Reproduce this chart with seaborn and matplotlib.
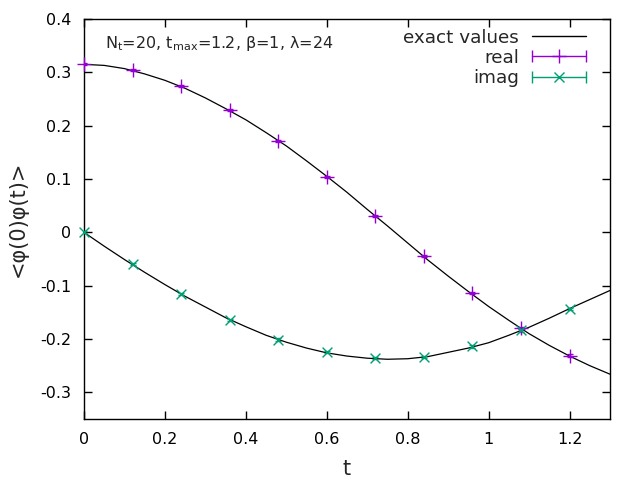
import matplotlib
matplotlib.use("Agg")
import matplotlib.pyplot as plt
import seaborn as sns
import numpy as np
import pandas as pd
from matplotlib.lines import Line2D
from matplotlib.legend_handler import HandlerBase

# ---- data ----
t_points = [0.0, 0.12, 0.24, 0.36, 0.48, 0.60, 0.72, 0.84, 0.96, 1.08, 1.20]
real_vals = [0.315, 0.304, 0.274, 0.229, 0.171, 0.103, 0.030, -0.045, -0.114, -0.180, -0.231]
real_err = [0.002, 0.002, 0.002, 0.002, 0.002, 0.002, 0.002, 0.002, 0.002, 0.002, 0.002]
imag_vals = [0.0, -0.060, -0.116, -0.165, -0.201, -0.225, -0.235, -0.233, -0.214, -0.184, -0.143]
imag_err = [0.002, 0.002, 0.002, 0.002, 0.002, 0.002, 0.002, 0.002, 0.002, 0.002, 0.002]

t_exact = [0.0, 0.05, 0.10, 0.15, 0.20, 0.25, 0.30, 0.35, 0.40, 0.45, 0.50, 0.55, 0.60,
           0.65, 0.70, 0.75, 0.80, 0.85, 0.90, 0.95, 1.00, 1.05, 1.10, 1.15, 1.20, 1.25, 1.30]
exact_real = [0.315, 0.313, 0.307, 0.297, 0.285, 0.270, 0.252, 0.232, 0.211, 0.187, 0.162,
              0.134, 0.105, 0.075, 0.043, 0.012, -0.020, -0.052, -0.082, -0.111, -0.139,
              -0.165, -0.190, -0.212, -0.232, -0.250, -0.266]
exact_imag = [0.0, -0.026, -0.051, -0.075, -0.098, -0.120, -0.140, -0.160, -0.177, -0.193,
              -0.206, -0.217, -0.226, -0.232, -0.236, -0.238, -0.237, -0.233, -0.225,
              -0.217, -0.207, -0.193, -0.178, -0.161, -0.143, -0.126, -0.109]

x_ticks = [0, 0.2, 0.4, 0.6, 0.8, 1.0, 1.2]
x_tick_labels = ["0", "0.2", "0.4", "0.6", "0.8", "1", "1.2"]
y_ticks = [-0.3, -0.2, -0.1, 0.0, 0.1, 0.2, 0.3, 0.4]
y_tick_labels = ["-0.3", "-0.2", "-0.1", "0", "0.1", "0.2", "0.3", "0.4"]

annotation = r"N$_\mathrm{t}$=20, t$_\mathrm{max}$=1.2, β=1, λ=24"

# ---- styling ----
sns.set_style("ticks")
plt.rcParams["font.family"] = ["DejaVu Sans"]
plt.rcParams["axes.unicode_minus"] = False
plt.rcParams["mathtext.fontset"] = "dejavusans"

purple = "#9400d3"
green = "#009e73"

fig = plt.figure(figsize=(6.4, 4.8), dpi=100)
ax = fig.add_axes([84 / 640, 61 / 480, 526 / 640, 400 / 480])

df_exact = pd.DataFrame({"t": t_exact, "re": exact_real, "im": exact_imag})
df_pts = pd.DataFrame({"t": t_points, "re": real_vals, "im": imag_vals,
                       "re_err": real_err, "im_err": imag_err})

sns.lineplot(data=df_exact, x="t", y="re", color="black", lw=0.9, ax=ax, legend=False)
sns.lineplot(data=df_exact, x="t", y="im", color="black", lw=0.9, ax=ax, legend=False)

ax.errorbar(df_pts["t"], df_pts["re"], yerr=df_pts["re_err"], fmt="none",
            ecolor=purple, elinewidth=1, capsize=2, zorder=3)
ax.errorbar(df_pts["t"], df_pts["im"], yerr=df_pts["im_err"], fmt="none",
            ecolor=green, elinewidth=1, capsize=2, zorder=3)
sns.scatterplot(data=df_pts, x="t", y="re", marker="+", s=90, color=purple,
                linewidth=1.0, ax=ax, zorder=4, clip_on=False, legend=False)
sns.scatterplot(data=df_pts, x="t", y="im", marker="x", s=50, color=green,
                linewidth=1.0, ax=ax, zorder=4, clip_on=False, legend=False)

ax.set_xlim(0, 1.3)
ax.set_ylim(-0.35, 0.4)
ax.set_xticks(x_ticks)
ax.set_xticklabels(x_tick_labels)
ax.set_yticks(y_ticks)
ax.set_yticklabels(y_tick_labels)
ax.tick_params(direction="in", top=True, right=True, length=6, width=1,
               labelsize=11.5, pad=9, colors="black")
for sp in ax.spines.values():
    sp.set_visible(True)
    sp.set_linewidth(1)
    sp.set_color("black")

ax.set_xlabel("t", fontsize=15, labelpad=9)
ax.set_ylabel("<φ(0)φ(t)>", fontsize=15, labelpad=9)

fig.text(105 / 640, 1 - 48 / 480, annotation, fontsize=11.5, ha="left",
         va="baseline")


class GnuErrHandler(HandlerBase):
    def __init__(self, color, marker, ms):
        super().__init__()
        self.color = color
        self.marker = marker
        self.ms = ms

    def create_artists(self, legend, orig_handle, xdescent, ydescent, width,
                       height, fontsize, trans):
        y = height / 2 - ydescent
        x0, x1 = -xdescent, width - xdescent
        line = Line2D([x0, x1], [y, y], color=self.color, lw=1, transform=trans)
        caps = Line2D([x0, x1], [y, y], ls="none", marker="|", ms=8,
                      mew=1, color=self.color, transform=trans)
        mk = Line2D([(x0 + x1) / 2], [y], ls="none", marker=self.marker,
                    ms=self.ms, mew=1, color=self.color, transform=trans)
        return [line, caps, mk]


h_exact = Line2D([], [], color="black", lw=1)
h_real = Line2D([], [], color=purple)
h_imag = Line2D([], [], color=green)
leg = ax.legend([h_exact, h_real, h_imag], ["exact values", "real", "imag"],
                handler_map={h_real: GnuErrHandler(purple, "+", 10),
                             h_imag: GnuErrHandler(green, "x", 7)},
                loc="upper right", bbox_to_anchor=(0.979, 1.008), frameon=False,
                markerfirst=False, fontsize=13.2, handlelength=2.95,
                handletextpad=0.7, labelspacing=0.12, borderaxespad=0.3)

fig.savefig("out.png", dpi=100)
